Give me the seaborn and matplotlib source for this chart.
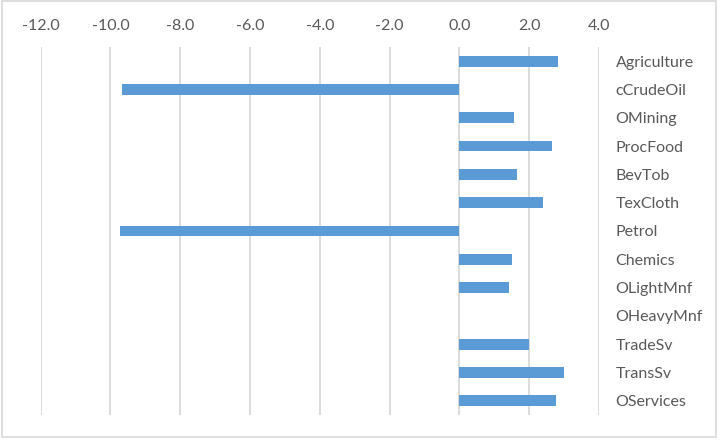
# horizontal bar chart, sector changes
# x axis on top, sector labels on the right

import numpy as np
import pandas as pd
import matplotlib
matplotlib.use('Agg')
import matplotlib.pyplot as plt
import seaborn as sns
from matplotlib.patches import Rectangle

sectors = ['Agriculture', 'cCrudeOil', 'OMining', 'ProcFood', 'BevTob', 'TexCloth',
           'Petrol', 'Chemics', 'OLightMnf', 'OHeavyMnf', 'TradeSv', 'TransSv', 'OServices']
values = [2.83, -9.68, 1.57, 2.66, 1.64, 2.40, -9.74, 1.52, 1.43, 0.0, 2.00, 2.99, 2.76]
xticks = [-12.0, -10.0, -8.0, -6.0, -4.0, -2.0, 0.0, 2.0, 4.0]

df = pd.DataFrame({'Sector': sectors, 'Value': values})

sns.set_style('white')
plt.rcParams['font.family'] = ['Lato', 'DejaVu Sans']

fig = plt.figure(figsize=(7.25, 4.44), dpi=100)
ax = fig.add_axes([40.7 / 725, 1 - 415 / 444, (599 - 40.7) / 725, 368 / 444])

sns.barplot(data=df, x='Value', y='Sector', orient='h', color='#5B9BD5',
            width=0.38, saturation=1, linewidth=0, ax=ax)

ax.set_xlim(-12, 4)
ax.set_xticks(xticks)
ax.set_xticklabels(['%.1f' % t for t in xticks])
ax.xaxis.tick_top()
ax.yaxis.tick_right()
ax.tick_params(axis='x', length=0, pad=10, labelsize=11.5, labelcolor='#595959')
ax.tick_params(axis='y', length=0, pad=12, labelsize=11.5, labelcolor='#595959')
for lab in ax.get_yticklabels():
    lab.set_horizontalalignment('left')

ax.grid(axis='x', color='#D9D9D9', linewidth=1.3)
ax.set_axisbelow(True)
for s in ax.spines.values():
    s.set_visible(False)
ax.set_xlabel('')
ax.set_ylabel('')

# outer chart border
fig.patches.append(Rectangle((1.5 / 725, 1 - 437 / 444), 714 / 725, 435.5 / 444,
                             transform=fig.transFigure, fill=False,
                             edgecolor='#D9D9D9', linewidth=1.2))

fig.savefig('out.png', dpi=100)
